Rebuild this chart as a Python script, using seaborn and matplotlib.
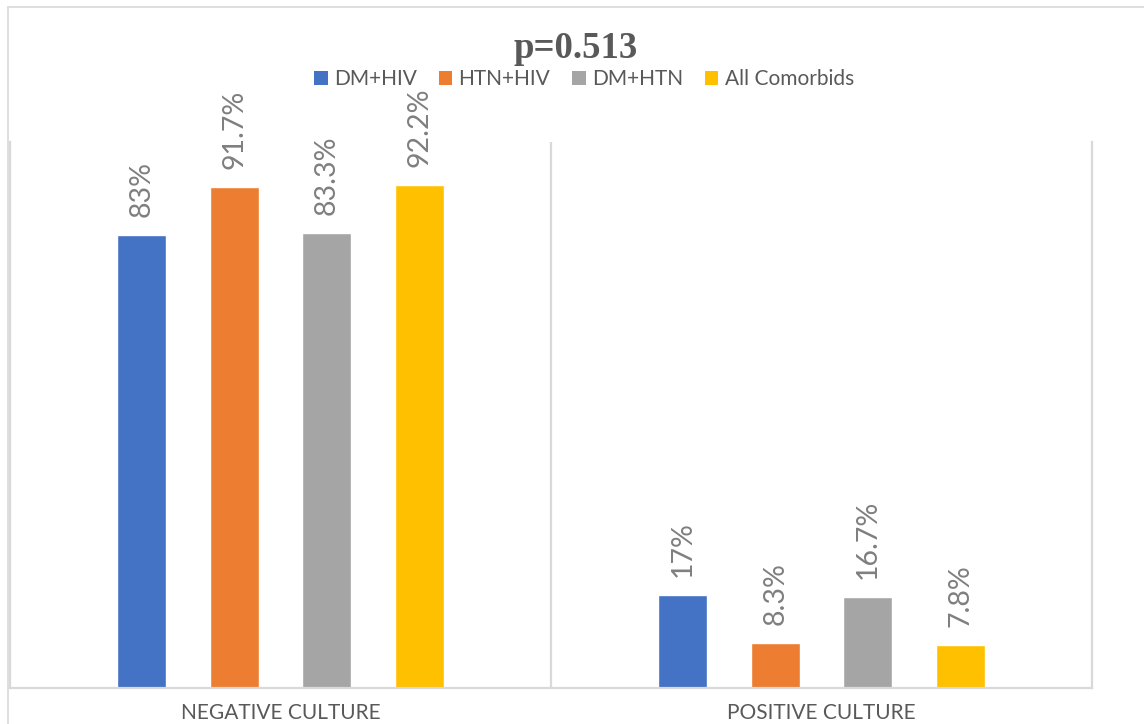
import matplotlib
matplotlib.use("Agg")
import matplotlib.pyplot as plt
from matplotlib.lines import Line2D
from matplotlib.patches import Patch
import seaborn as sns
import pandas as pd

# Culture result by comorbidity group (percent of patients)
categories = ["NEGATIVE CULTURE", "POSITIVE CULTURE"]
groups = ["DM+HIV", "HTN+HIV", "DM+HTN", "All Comorbids"]
negative_pct = [83, 91.7, 83.3, 92.2]
positive_pct = [17, 8.3, 16.7, 7.8]
colors = ["#4472C4", "#ED7D31", "#A5A5A5", "#FFC000"]
title_text = "p=0.513"

rows = []
for g, n, p in zip(groups, negative_pct, positive_pct):
    rows.append({"culture": categories[0], "group": g, "pct": n})
    rows.append({"culture": categories[1], "group": g, "pct": p})
df = pd.DataFrame(rows)

sns.set_theme(style="white")
plt.rcParams["font.family"] = ["Lato", "DejaVu Sans"]

W, H = 1144, 724
fig = plt.figure(figsize=(W / 100, H / 100), dpi=100)
ax = fig.add_axes([10 / W, 36 / H, 1082 / W, 546 / H])

sns.barplot(data=df, x="culture", y="pct", hue="group", order=categories,
            hue_order=groups, palette=colors, width=0.684, gap=0.474,
            saturation=1, legend=False, ax=ax, errorbar=None)

ax.set_ylim(0, 100)
ax.set_xlim(-0.5, 1.5)
ax.set_yticks([])
ax.set_xlabel("")
ax.set_ylabel("")

grid_c = "#D9D9D9"
for side in ("left", "right", "bottom"):
    ax.spines[side].set_visible(True)
    ax.spines[side].set_color(grid_c)
    ax.spines[side].set_linewidth(1.6)
ax.spines["top"].set_visible(False)
ax.axvline(0.5, color=grid_c, lw=1.6, zorder=0)

ax.tick_params(axis="x", length=0, pad=11, labelsize=15, labelcolor="#595959")

# value labels above each bar
for cont, vals in zip(ax.containers, zip(negative_pct, positive_pct)):
    ax.bar_label(cont, labels=[f"{v:g}%" for v in vals], rotation=90,
                 padding=13, fontsize=20.5, color="#7F7F7F")

# chart area border (top and left edges)
fig.add_artist(Line2D([8 / W, 1.0], [1 - 7 / H, 1 - 7 / H], transform=fig.transFigure,
                      color=grid_c, lw=1.2))
fig.add_artist(Line2D([8 / W, 8 / W], [0, 1 - 7 / H], transform=fig.transFigure,
                      color=grid_c, lw=1.2))

fig.text(576 / W, 1 - 49 / H, title_text, ha="center", va="center",
         family="Liberation Serif", weight="bold", fontsize=26.5, color="#595959")

handles = [Patch(facecolor=c, edgecolor="none") for c in colors]
fig.legend(handles, groups, loc="center", bbox_to_anchor=(584 / W, 1 - 79 / H),
           ncol=4, frameon=False, fontsize=15, handlelength=0.65, handleheight=0.65,
           handletextpad=0.3, columnspacing=1.05, labelcolor="#595959")

fig.savefig("out.png", dpi=100, facecolor="white")
